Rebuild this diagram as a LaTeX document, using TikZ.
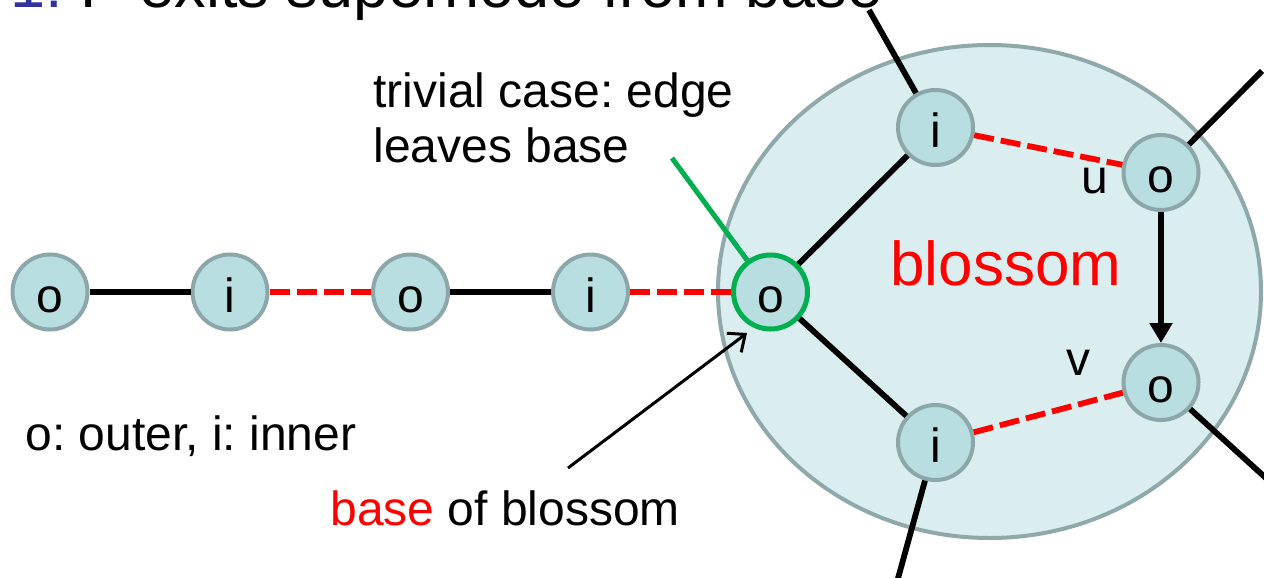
\documentclass[tikz,border=0pt]{standalone}
\usepackage{fontspec}
\setmainfont{Liberation Sans}
\usetikzlibrary{arrows.meta}
\definecolor{nodefill}{HTML}{B8DEE2}
\definecolor{nodeline}{HTML}{8CA7AA}
\definecolor{blofill}{HTML}{DAEDEF}
\definecolor{bloline}{HTML}{8FA9AB}
\definecolor{mygreen}{HTML}{00B050}
\definecolor{myblue}{HTML}{3333A0}
\frenchspacing
\begin{document}
\begin{tikzpicture}[x=0.5pt,y=-0.5pt,
  vtx/.style={circle, draw=nodeline, fill=nodefill, line width=2pt, minimum size=37.5pt, inner sep=0pt, font=\fontsize{24}{24}\selectfont, text height=20pt, text depth=0pt},
  basevtx/.style={vtx, draw=mygreen, line width=2.5pt, minimum size=37pt},
  edge/.style={line width=2.9pt, black},
  redge/.style={line width=2.9pt, red, dash pattern=on 10pt off 3.5pt},
  lbl/.style={font=\fontsize{24}{24}\selectfont, inner sep=0pt},
  thinarrow/.style={line width=1.5pt, black, -{Straight Barb[length=7pt,width=12pt]}},
  greenline/.style={line width=2.5pt, mygreen},
  blossomshape/.style={draw=bloline, fill=blofill, line width=2pt}
]
\useasboundingbox (0,0) rectangle (1264,578);
\clip (0,0) rectangle (1264,578);

% title (cut off at top, as in the reference)
\node[anchor=base west, inner sep=0pt, font=\fontsize{31.5}{31.5}\selectfont] (title) at (10,7) {\textcolor{myblue}{1:} P exits supernode from base};

% blossom
\draw[blossomshape] (989.5,291.5) ellipse [x radius=271.5, y radius=246.5];

% vertices
\node[vtx] (a) at (50,292) {o};
\node[vtx] (b) at (230,292) {i};
\node[vtx] (c) at (410.5,292) {o};
\node[vtx] (d) at (590.5,292) {i};
\node[basevtx] (base) at (770.5,292) {o};
\node[vtx] (ti) at (935.5,127.5) {i};
\node[vtx] (u) at (1161,172.5) {o};
\node[vtx] (v) at (1161,382.5) {o};
\node[vtx] (bi) at (935.5,442.5) {i};

% free ends
\coordinate (e1) at (869,10);
\coordinate (e2) at (1262,71);
\coordinate (e3) at (1268,480);
\coordinate (e4) at (897,582);
\coordinate (gstart) at (672,158);
\coordinate (bstart) at (568,468);
\coordinate (btip) at (747,333);

% edges
\draw[edge] (a) -- (b);
\draw[redge] (b) -- (c);
\draw[edge] (c) -- (d);
\draw[redge] (d) -- (base);
\draw[edge] (base) -- (ti);
\draw[edge] (base) -- (bi);
\draw[redge] (ti) -- (u);
\draw[redge] (bi) -- (v);
\draw[edge, -{Triangle[length=10pt,width=11pt]}] (u) -- (v);
\draw[edge] (ti) -- (e1);
\draw[edge] (u) -- (e2);
\draw[edge] (v) -- (e3);
\draw[edge] (bi) -- (e4);
\draw[greenline] (gstart) -- (base);
\draw[thinarrow] (bstart) -- (btip);

% labels
\node[lbl, anchor=base west] (t1) at (373,107) {trivial case: edge};
\node[lbl, anchor=base west] (t2) at (373,162) {leaves base};
\node[lbl, anchor=base west] (legend) at (25,450) {o: outer, i: inner};
\node[lbl, anchor=base west] (bob) at (330,525) {\textcolor{red}{base} of blossom};
\node[anchor=base west, inner sep=0pt, font=\fontsize{31}{31}\selectfont, text=red] (blabel) at (890,285) {blossom};
\node[lbl, anchor=base] (ul) at (1095,193) {u};
\node[lbl, anchor=base] (vl) at (1078,375) {v};
\end{tikzpicture}
\end{document}
